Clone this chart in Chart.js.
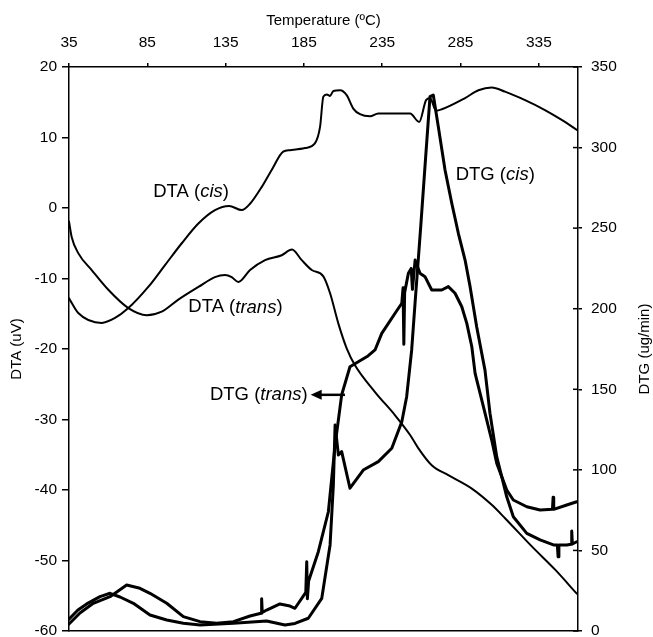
<!DOCTYPE html>
<html>
<head>
<meta charset="utf-8">
<script src="https://cdn.jsdelivr.net/npm/chart.js@4.4.0/dist/chart.umd.min.js"></script>
<style>
  html, body { margin: 0; padding: 0; background: #fff; }
  #wrap { width: 653px; height: 637px; }
</style>
</head>
<body>
<div id="wrap"><canvas id="thermoChart"></canvas></div>
<script>
  /* DONNÉES */

  // Graduations de température (axe du haut)
  const tempTicks = [35, 85, 135, 185, 235, 285, 335];

  // DTA (cis) : température (ºC) / signal (uV)
  const dtaCisT = [35, 40.9, 55.9, 64.4, 72.9, 85.6, 96.3, 107.0, 117.6, 128.2, 137.2, 145.3, 150.6, 158.1, 164.4, 171.8, 176.1, 185.7, 192.1, 195.3, 197.4, 199.6, 201.7, 203.8, 208.1, 212.3, 216.5, 220.8, 227.2, 232.5, 241.1, 252.8, 258.6, 263.0, 265.5, 269.4, 273.0, 287.9, 296.4, 304.9, 313.4, 326.2, 338.9, 349.6, 359.8];
  const dtaCisV = [-12.8, -14.9, -16.3, -15.6, -14.2, -11.2, -8.1, -5.0, -2.2, -0.3, 0.3, -0.3, 0.6, 3.0, 5.4, 8.0, 8.2, 8.5, 9.2, 11.5, 15.8, 16.1, 15.9, 16.6, 16.7, 16.0, 14.1, 13.3, 13.0, 13.4, 13.4, 13.4, 12.2, 15.3, 15.6, 13.8, 14.0, 15.6, 16.7, 17.1, 16.5, 15.3, 13.9, 12.5, 11.0];

  // DTA (trans)
  const dtaTransT = [35, 36.7, 40.9, 49.5, 60.1, 72.9, 84.6, 94.2, 104.8, 117.6, 128.2, 134.6, 138.9, 143.1, 150.6, 160.2, 170.8, 177.4, 183.6, 190.0, 197.4, 201.7, 207.0, 212.3, 217.6, 230.4, 243.2, 252.8, 258.1, 266.6, 277.2, 292.2, 304.9, 313.4, 330.5, 345.4, 359.2];
  const dtaTransV = [-1.9, -4.1, -6.4, -8.8, -11.6, -14.2, -15.2, -14.7, -13.0, -11.2, -9.8, -9.5, -9.8, -10.5, -8.8, -7.4, -6.7, -5.9, -7.4, -8.8, -9.7, -12.1, -16.4, -19.9, -22.3, -26.1, -29.4, -32.2, -34.1, -36.5, -37.9, -39.8, -42.1, -44.0, -48.0, -51.3, -54.7];

  // DTG (cis) : température (ºC) / perte de masse (ug/min)
  const dtgCisT = [35, 40.7, 46.3, 54.8, 61.2, 67.6, 76.1, 86.7, 97.4, 108, 118.7, 140, 161.2, 172.9, 179.3, 187.8, 196.4, 201.7, 203.8, 204.9, 207.0, 209.1, 214.4, 222.9, 232.5, 241.1, 247.5, 250.6, 253.8, 256.1, 259.6, 262.6, 265.5, 267.6, 270.8, 275.1, 279.4, 283.6, 287.9, 291.1, 295.3, 300.6, 303.8, 308.1, 311.3, 314.5, 318.7, 327.3, 335.8, 344.3, 346.8, 347.3, 347.8, 352.8, 355.6, 356.0, 356.4, 359.2];
  const dtgCisV = [7.4, 13.0, 16.8, 21.3, 23.4, 21.1, 17.2, 9.9, 6.8, 4.8, 3.7, 4.8, 6.2, 3.7, 4.7, 7.9, 20.3, 53.4, 90.6, 127.8, 109.2, 111.3, 88.6, 99.9, 105.1, 113.4, 129.9, 145.4, 174.4, 205.4, 251.3, 292.3, 331.6, 332.6, 313.0, 286.1, 265.4, 246.8, 230.2, 213.7, 188.8, 161.9, 135.1, 108.2, 95.8, 83.3, 70.9, 60.6, 56.5, 53.4, 53.4, 46.0, 53.4, 53.4, 53.8, 62.0, 54.0, 55.4];

  // DTG (trans)
  const dtgTransT = [35, 42, 50.5, 61.2, 71.8, 80.3, 86.7, 97.4, 108, 118.7, 129.3, 140, 150.6, 157.6, 158.0, 158.4, 161.2, 169.7, 176.1, 179.3, 186.2, 186.8, 187.2, 188.0, 194.2, 200.6, 204.9, 209.1, 214.4, 219.7, 225.9, 230.4, 234.7, 243.2, 247.5, 248.3, 248.8, 249.3, 251.7, 253.5, 254.3, 256.0, 259.1, 262.3, 266.6, 273.0, 277.2, 281.5, 285.8, 289.0, 292.2, 294.3, 299.6, 304.9, 308.1, 311.3, 314.5, 318.7, 327.3, 335.8, 343.7, 344.1, 344.5, 352.8, 359.2];
  const dtgTransV = [4.3, 11.2, 17.2, 21.3, 28.5, 26.5, 23.4, 17.2, 8.9, 5.8, 4.8, 5.8, 9.3, 11.0, 20.0, 11.5, 13.0, 16.8, 15.5, 14.1, 24.0, 43.0, 20.0, 31.0, 49.2, 74.0, 115.4, 146.5, 164.0, 167.1, 170.7, 174.4, 184.7, 197.2, 203.4, 213.0, 178.0, 210.0, 222.0, 225.0, 212.0, 230.2, 222.0, 219.9, 211.6, 211.6, 213.7, 209.6, 201.2, 190.9, 176.4, 159.9, 139.2, 118.5, 104.1, 95.8, 87.5, 81.3, 77.1, 75.1, 75.5, 83.0, 75.5, 78.2, 80.2];

  const FONT = "'Liberation Sans', Arial, sans-serif";
  const LABEL_SIZE = 18.5;

  // Étiquettes des courbes, placées en coordonnées (ºC, uV)
  const curveLabels = [
    { parts: [["DTA (", false], ["cis", true], [")", false]], t: 88.8, v: 2.3 },
    { parts: [["DTA (", false], ["trans", true], [")", false]], t: 111.2, v: -14.1 },
    { parts: [["DTG (", false], ["cis", true], [")", false]], t: 281.9, v: 4.7 },
    { parts: [["DTG (", false], ["trans", true], [")", false]], t: 125.0, v: -26.5 },
  ];
  // Flèche vers DTG (trans)
  const arrowFrom = { t: 211.2, v: -26.5 };
  const arrowTo = { t: 189.3, v: -26.5 };

  function pts(xs, ys) {
    return xs.map((x, i) => ({ x: x, y: ys[i] }));
  }

  /* PLUGIN : ÉTIQUETTES, FLÈCHE, TITRE DROIT */

  const annotations = {
    id: "annotations",
    afterDraw(chart) {
      const ctx = chart.ctx;
      const sx = chart.scales.x;
      const sy = chart.scales.y;
      const sy2 = chart.scales.y2;
      ctx.save();
      ctx.fillStyle = "#000";
      ctx.strokeStyle = "#000";
      ctx.textBaseline = "middle";
      ctx.textAlign = "left";

      curveLabels.forEach((lab) => {
        let px = sx.getPixelForValue(lab.t);
        const py = sy.getPixelForValue(lab.v);
        lab.parts.forEach(([txt, italic]) => {
          ctx.font = (italic ? "italic " : "") + LABEL_SIZE + "px " + FONT;
          ctx.fillText(txt, px, py);
          px += ctx.measureText(txt).width;
        });
      });

      // flèche
      const x0 = sx.getPixelForValue(arrowFrom.t);
      const x1 = sx.getPixelForValue(arrowTo.t);
      const ay = sy.getPixelForValue(arrowTo.v);
      ctx.lineWidth = 2.5;
      ctx.beginPath();
      ctx.moveTo(x0, ay);
      ctx.lineTo(x1 + 8, ay);
      ctx.stroke();
      ctx.beginPath();
      ctx.moveTo(x1, ay);
      ctx.lineTo(x1 + 11, ay - 5);
      ctx.lineTo(x1 + 11, ay + 5);
      ctx.closePath();
      ctx.fill();

      // graduations intérieures de l'axe droit
      ctx.lineWidth = 1.5;
      sy2.ticks.forEach((t) => {
        const y = sy2.getPixelForValue(t.value);
        ctx.beginPath();
        ctx.moveTo(sy2.left - 5, y);
        ctx.lineTo(sy2.left, y);
        ctx.stroke();
      });

      // titre de l'axe droit (lu de bas en haut)
      ctx.font = "15px " + FONT;
      ctx.textAlign = "center";
      ctx.translate(645, (chart.chartArea.top + chart.chartArea.bottom) / 2);
      ctx.rotate(-Math.PI / 2);
      ctx.fillText("DTG (ug/min)", 0, 0);
      ctx.restore();
    },
  };

  /* GRAPHIQUE */

  const tickFont = { family: FONT, size: 15.5 };
  const black = "#000";

  const ctx = document.getElementById("thermoChart").getContext("2d");
  const thermoChart = new Chart(ctx, {
    type: "line",
    data: {
      datasets: [
        { label: "DTA (cis)", data: pts(dtaCisT, dtaCisV), yAxisID: "y", borderWidth: 2, cubicInterpolationMode: "monotone" },
        { label: "DTA (trans)", data: pts(dtaTransT, dtaTransV), yAxisID: "y", borderWidth: 2, cubicInterpolationMode: "monotone" },
        { label: "DTG (cis)", data: pts(dtgCisT, dtgCisV), yAxisID: "y2", borderWidth: 3, tension: 0 },
        { label: "DTG (trans)", data: pts(dtgTransT, dtgTransV), yAxisID: "y2", borderWidth: 3, tension: 0 },
      ],
    },
    options: {
      responsive: true,
      maintainAspectRatio: false,
      animation: false,
      layout: { padding: 0 },
      elements: {
        point: { radius: 0 },
        line: { borderColor: black, borderJoinStyle: "round", borderCapStyle: "round" },
      },
      plugins: {
        legend: { display: false },
        tooltip: { enabled: false },
      },
      scales: {
        x: {
          type: "linear",
          position: "top",
          min: 35,
          max: 360,
          afterBuildTicks: (s) => {
            s.ticks = tempTicks.map((v) => ({ value: v }));
          },
          afterFit: (s) => {
            s.height = 67;
          },
          ticks: { color: black, font: tickFont, padding: 11, maxRotation: 0, autoSkip: false },
          grid: { drawOnChartArea: false, drawTicks: true, tickLength: 4, color: black, lineWidth: 1.5 },
          border: { color: black, width: 1.5 },
          title: { display: true, text: "Temperature (ºC)", color: black, font: { family: FONT, size: 15 }, padding: { top: 12, bottom: 0 } },
        },
        x2: {
          type: "linear",
          position: "bottom",
          min: 35,
          max: 360,
          afterFit: (s) => {
            s.height = 6;
          },
          ticks: { display: false },
          grid: { drawOnChartArea: false, drawTicks: false },
          border: { color: black, width: 1.5 },
        },
        y: {
          position: "left",
          min: -60,
          max: 20,
          afterFit: (s) => {
            s.width = 69;
            s.paddingTop = 0;
            s.paddingBottom = 0;
          },
          ticks: { stepSize: 10, color: black, font: tickFont, padding: 5 },
          grid: { drawOnChartArea: false, drawTicks: true, tickLength: 7, color: black, lineWidth: 1.5 },
          border: { color: black, width: 1.5 },
          title: { display: true, text: "DTA (uV)", color: black, font: { family: FONT, size: 15 }, padding: { top: 8, bottom: 0 } },
        },
        y2: {
          position: "right",
          min: 0,
          max: 350,
          afterFit: (s) => {
            s.width = 75;
            s.paddingTop = 0;
            s.paddingBottom = 0;
          },
          ticks: { stepSize: 50, color: black, font: tickFont, padding: 9 },
          grid: { drawOnChartArea: false, drawTicks: true, tickLength: 4, color: black, lineWidth: 1.5 },
          border: { color: black, width: 1.5 },
        },
      },
    },
    plugins: [annotations],
  });
</script>
</body>
</html>
